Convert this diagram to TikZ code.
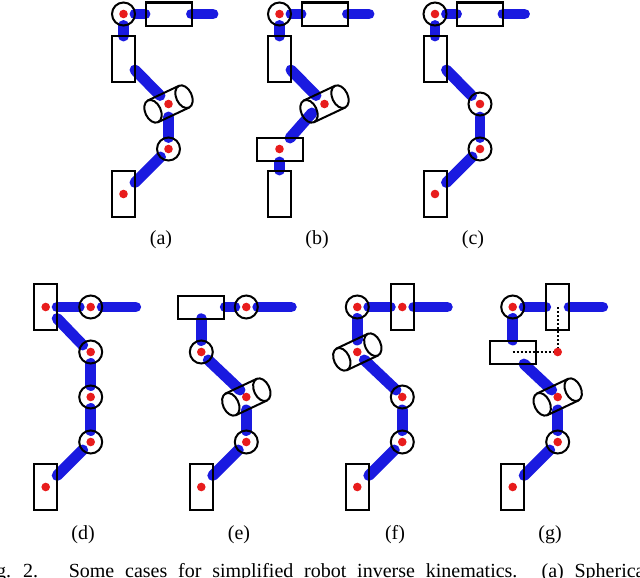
\documentclass[tikz,border=0pt]{standalone}
\usepackage{fontspec}
\setmainfont{Liberation Serif}
\usetikzlibrary{calc}
\definecolor{linkblue}{RGB}{26,26,224}
\definecolor{dotred}{RGB}{232,28,28}
\tikzset{
 link/.style={draw=linkblue,line width=8.2pt,line cap=round},
 outline/.style={draw=black,line width=1.5pt},
 captext/.style={font=\fontsize{15pt}{17pt}\selectfont,inner sep=0pt,anchor=base},
 guide/.style={draw=black,line width=1.5pt,dash pattern=on 1.5pt off 1.5pt},
}
\newcommand{\lnk}[2]{\draw[link] (#1) -- (#2);}
\newcommand{\rdot}[1]{\fill[dotred] (#1) circle[radius=4.3];}
\newcommand{\jnt}[1]{\draw[outline] (#1) circle[radius=11.5];\rdot{#1}}
\newcommand{\vrct}[1]{\draw[outline] ($(#1)+(-11.5,-23)$) rectangle ($(#1)+(11.5,23)$);}
\newcommand{\hrct}[1]{\draw[outline] ($(#1)+(-23,-11.5)$) rectangle ($(#1)+(23,11.5)$);}
\newcommand{\cyl}[1]{%
 \begin{scope}[shift={(#1)}]
  \draw[outline] (-15.5,7.3) ellipse[x radius=7.8,y radius=12,rotate=25];
  \draw[outline] (15.5,-7.3) ellipse[x radius=7.8,y radius=12,rotate=25];
  \draw[outline] (-20.5,-3.6) -- (10.5,-18.2);
  \draw[outline] (-10.5,18.2) -- (20.5,3.6);
 \end{scope}\rdot{#1}}
\newcommand{\lowerlinks}{\lnk{45,103}{45,123.5}\lnk{37,143}{11.5,168.5}}
\begin{document}
\begin{tikzpicture}[x=0.75pt,y=-0.75pt]
\useasboundingbox (0,0) rectangle (640,578);
\clip (0,0) rectangle (640,578);
% (a)
\begin{scope}[shift={(123.5,14)}]
 \lnk{11.5,0}{21.5,0}\lnk{68,0}{89.5,0}\lnk{0,11.5}{0,22}\lnk{11.5,56}{36.5,81.5}\lowerlinks
 \hrct{45,0}\vrct{0,45}\vrct{0,180}\cyl{45,90}\jnt{0,0}\jnt{45,135}\rdot{0,180}
\end{scope}
% (b)
\begin{scope}[shift={(279.5,14)}]
 \lnk{11.5,0}{21.5,0}\lnk{68,0}{89.5,0}\lnk{0,11.5}{0,22}\lnk{11.5,56}{36.5,81.5}
 \lnk{32.5,99}{10.5,124}\lnk{0,148}{0,156}
 \hrct{45,0}\vrct{0,45}\vrct{0,180}\cyl{45,90}\hrct{0,135}\jnt{0,0}\rdot{0,135}
\end{scope}
% (c)
\begin{scope}[shift={(435,14)}]
 \lnk{11.5,0}{21.5,0}\lnk{68,0}{89.5,0}\lnk{0,11.5}{0,22}\lnk{11.5,56}{36.5,81.5}\lowerlinks
 \hrct{45,0}\vrct{0,45}\vrct{0,180}\jnt{0,0}\jnt{45,90}\jnt{45,135}\rdot{0,180}
\end{scope}
% (d)
\begin{scope}[shift={(45.7,307)}]
 \lnk{11.5,0}{33.5,0}\lnk{56.5,0}{90,0}\lnk{11.5,11.5}{37,38}\lnk{45,56.5}{45,78.5}\lnk{45,101.5}{45,123.5}\lnk{37,143}{11.5,168.5}
 \vrct{0,0}\vrct{0,180}\jnt{45,0}\jnt{45,45}\jnt{45,90}\jnt{45,135}\rdot{0,0}\rdot{0,180}
\end{scope}
% (e)
\begin{scope}[shift={(201.3,307)}]
 \lnk{24,0}{33.5,0}\lnk{56.5,0}{90,0}\lnk{0,11.8}{0,33.5}\lnk{7,53}{38.7,83}\lowerlinks
 \hrct{0,0}\vrct{0,180}\cyl{45,90}\jnt{45,0}\jnt{0,45}\jnt{45,135}\rdot{0,180}
\end{scope}
% (f)
\begin{scope}[shift={(357.3,307)}]
 \lnk{11.5,0}{33,0}\lnk{56.5,0}{90,0}\lnk{0,11.5}{0,33}\lnk{7,53}{38.7,83}\lowerlinks
 \vrct{45,0}\vrct{0,180}\cyl{0,45}\jnt{0,0}\jnt{45,90}\jnt{45,135}\rdot{45,0}\rdot{0,180}
\end{scope}
% (g)
\begin{scope}[shift={(512.7,307)}]
 \lnk{11.5,0}{33,0}\lnk{56.5,0}{90,0}\lnk{0,11.5}{0,33}\lnk{11.3,57}{39,83}\lowerlinks
 \vrct{45,0}\hrct{0,45}\vrct{0,180}\cyl{45,90}\jnt{0,0}\jnt{45,135}\rdot{0,180}
 \coordinate (gwrist) at (45,0);
 \coordinate (gbase) at (0,45);
 \coordinate (gpoint) at (45,45);
 \draw[guide] (gwrist) -- (gpoint);
 \draw[guide] (gbase) -- (gpoint);
 \rdot{gpoint}
\end{scope}
% captions
\node[captext] (capa) at (161,244) {(a)};
\node[captext] (capb) at (317,244) {(b)};
\node[captext] (capc) at (473,244) {(c)};
\node[captext] (capd) at (83,539) {(d)};
\node[captext] (cape) at (239,539) {(e)};
\node[captext] (capf) at (395,539) {(f)};
\node[captext] (capg) at (550,539) {(g)};
\node[captext,anchor=base east] (figno) at (38.5,577) {Fig.\hspace{0.6em}2.};
\node[captext,anchor=base west] (figtext) at (68.5,577) {\makebox[436pt][s]{Some cases for simplified robot inverse kinematics. (a) Spherical}};
\end{tikzpicture}
\end{document}
